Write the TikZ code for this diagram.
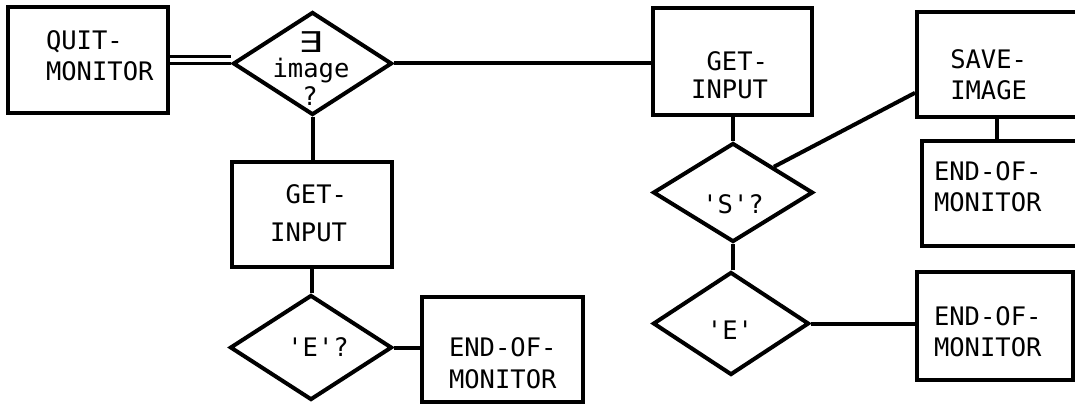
\documentclass[tikz,border=0pt]{standalone}
\usepackage{fontspec}
\usepackage{graphicx}
\setmonofont{DejaVu Sans Mono}
\newfontfamily\symfont{DejaVu Sans}
\usetikzlibrary{shapes.geometric,calc}
\begin{document}
\begin{tikzpicture}[x=1pt,y=-1pt,line width=4pt,
  box/.style={draw,rectangle,inner sep=0pt,line width=4pt},
  dia/.style={draw,diamond,inner sep=0pt,line width=4pt},
  txt/.style={font=\ttfamily\fontsize{25.5}{31}\selectfont,inner sep=0pt},
  conn/.style={draw,line width=4pt}]
\useasboundingbox[fill=white] (0,0) rectangle (1075,406);
% boxes
\node[box,minimum width=160pt,minimum height=106pt] (qm) at (88,60) {};
\node[box,minimum width=160pt,minimum height=105pt] (gi1) at (312,214.5) {};
\node[box,minimum width=161pt,minimum height=105pt] (eom1) at (502.5,349.5) {};
\node[box,minimum width=159pt,minimum height=107pt] (gi2) at (732.5,61.5) {};
\node[box,minimum width=165pt,minimum height=105pt] (save) at (999.5,64.5) {};
\node[box,minimum width=160pt,minimum height=105pt] (eom2) at (1002,193.5) {};
\node[box,minimum width=156pt,minimum height=108pt] (eom3) at (995,325.5) {};
% diamonds
\node[dia,minimum width=159pt,minimum height=103pt] (d1) at (312.5,63.5) {};
\node[dia,minimum width=162pt,minimum height=105pt] (d2) at (311,347.5) {};
\node[dia,minimum width=160pt,minimum height=99pt] (d3) at (733,192.5) {};
\node[dia,minimum width=156pt,minimum height=103pt] (d4) at (731,323.5) {};
% texts
\node[txt,align=left,anchor=west] (tqm) at (44,55.5) {QUIT-\\MONITOR};
\node[txt,align=right,anchor=east] (tgi1) at (349,213.5) {GET-\\[7pt]INPUT};
\node[txt,align=right,anchor=east] (tgi2) at (770,75) {GET-\\[-3pt]INPUT};
\node[txt,align=right,anchor=east] (tsave) at (1029,75) {SAVE-\\IMAGE};
\node[txt,align=left,anchor=west] (teom1) at (447,363) {END-OF-\\[1pt]MONITOR};
\node[txt,align=left,anchor=west] (teom2) at (932,187) {END-OF-\\MONITOR};
\node[txt,align=left,anchor=west] (teom3) at (932,332) {END-OF-\\MONITOR};
\node[txt] (tex) at (311,42) {\symfont\fontsize{26}{26}\selectfont\scalebox{1.5}[1.1]{∃}};
\node[txt] (timg) at (311,71) {image};
\node[txt] (tq) at (310,96) {?};
\node[txt] (te1) at (318,347) {'E'?};
\node[txt] (ts) at (733,204) {'S'?};
\node[txt] (te2) at (730,330) {'E'};
% connectors
\draw[double,double distance=4.5pt,line width=3pt] (qm.east) -- (qm.east -| d1.west);
\draw[conn] (d1.south) -- (d1.south |- gi1.north);
\draw[conn] (gi1.south) -- (gi1.south |- d2.north);
\draw[conn] (d2.east) -- (d2.east -| eom1.west);
\draw[conn] (d1.east) -- (d1.east -| gi2.west);
\draw[conn] (d3.north |- gi2.south) -- (d3.north);
\draw[conn] (d3.north east) -- ($(save.north west)!0.76!(save.south west)$);
\draw[conn] ([xshift=-2.5pt]save.south) -- ([xshift=-2.5pt]save.south |- eom2.north);
\draw[conn] (d3.south) -- (d3.south |- d4.north);
\draw[conn] (d4.east) -- (d4.east -| eom3.west);
\end{tikzpicture}
\end{document}
